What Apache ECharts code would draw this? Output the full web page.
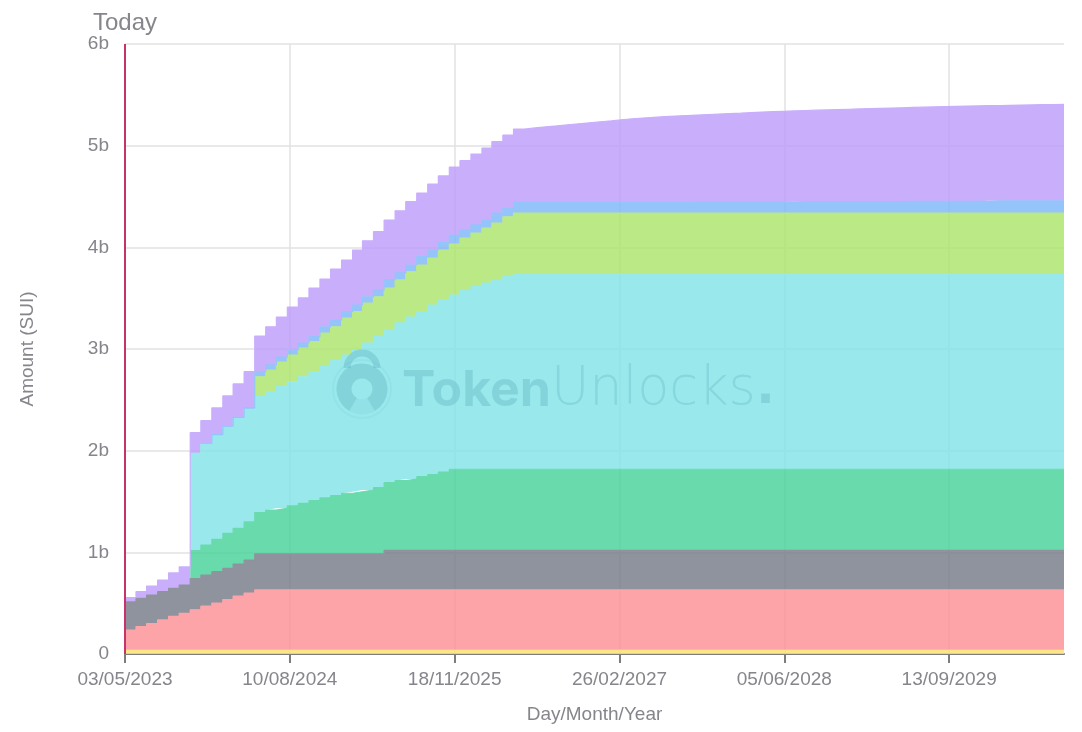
<!DOCTYPE html>
<html>
<head>
<meta charset="utf-8">
<title>SUI unlock schedule</title>
<script src="https://cdn.jsdelivr.net/npm/echarts@6/dist/echarts.min.js"></script>
<style>
  html, body { margin: 0; padding: 0; background: #fff; }
  #chart { width: 1082px; height: 732px; }
</style>
</head>
<body>
<div id="chart"></div>
<script>
// values in billions of SUI, one per monthly unlock step from 03/05/2023
// null = that allocation has not started yet
const tickDays = [0, 465, 930, 1395, 1860, 2325];
const tickLabels = ['03/05/2023', '10/08/2024', '18/11/2025', '26/02/2027', '05/06/2028', '13/09/2029'];

const band1 = [
  .035,.035,.035,.035,.035,.035,.035,.035,.035,.035,
  .035,.035,.035,.035,.035,.035,.035,.035,.035,.035,
  .035,.035,.035,.035,.035,.035,.035,.035,.035,.035,
  .035,.035,.035,.035,.035,.035,.035,.035,.035,.035,
  .035,.035,.035,.035,.035,.035,.035,.035,.035,.035,
  .035,.035,.035,.035,.035,.035,.035,.035,.035,.035,
  .035,.035,.035,.035,.035,.035,.035,.035,.035,.035,
  .035,.035,.035,.035,.035,.035,.035,.035,.035,.035,
  .035,.035,.035,.035,.035,.035,.035,.035
];
const band2 = [
  .201,.235,.265,.30,.335,.365,.40,.435,.465,.50,
  .535,.565,.595,.595,.595,.595,.595,.595,.595,.595,
  .595,.595,.595,.595,.595,.595,.595,.595,.595,.595,
  .595,.595,.595,.595,.595,.595,.595,.595,.595,.595,
  .595,.595,.595,.595,.595,.595,.595,.595,.595,.595,
  .595,.595,.595,.595,.595,.595,.595,.595,.595,.595,
  .595,.595,.595,.595,.595,.595,.595,.595,.595,.595,
  .595,.595,.595,.595,.595,.595,.595,.595,.595,.595,
  .595,.595,.595,.595,.595,.595,.595,.595
];
const band3 = [
  .278,.278,.28,.278,.276,.278,.307,.307,.31,.308,
  .315,.324,.355,.355,.355,.355,.355,.355,.355,.355,
  .355,.355,.355,.355,.39,.39,.39,.39,.39,.39,
  .39,.39,.39,.39,.39,.39,.39,.39,.39,.39,
  .39,.39,.39,.39,.39,.39,.39,.39,.39,.39,
  .39,.39,.39,.39,.39,.39,.39,.39,.39,.39,
  .39,.39,.39,.39,.39,.39,.39,.39,.39,.39,
  .39,.39,.39,.39,.39,.39,.39,.39,.39,.39,
  .39,.39,.39,.39,.39,.39,.39,.39
];
const band4 = [
  null,null,null,null,null,null,.274,.295,.318,.344,
  .351,.377,.405,.431,.448,.471,.497,.523,.552,.572,
  .596,.611,.628,.651,.665,.685,.701,.724,.744,.77,
  .797,.797,.797,.797,.797,.797,.797,.797,.797,.797,
  .797,.797,.797,.797,.797,.797,.797,.797,.797,.797,
  .797,.797,.797,.797,.797,.797,.797,.797,.797,.797,
  .797,.797,.797,.797,.797,.797,.797,.797,.797,.797,
  .797,.797,.797,.797,.797,.797,.797,.797,.797,.797,
  .797,.797,.797,.797,.797,.797,.797,.797
];
const band5 = [
  null,null,null,null,null,null,.958,.991,1.019,1.043,
  1.082,1.109,1.141,1.164,1.196,1.222,1.245,1.269,1.289,1.328,
  1.36,1.394,1.446,1.485,1.502,1.551,1.594,1.623,1.669,1.692,
  1.714,1.763,1.796,1.832,1.862,1.894,1.921,1.921,1.921,1.921,
  1.921,1.921,1.921,1.921,1.921,1.921,1.921,1.921,1.921,1.921,
  1.921,1.921,1.921,1.921,1.921,1.921,1.921,1.921,1.921,1.921,
  1.921,1.921,1.921,1.921,1.921,1.921,1.921,1.921,1.921,1.921,
  1.921,1.921,1.921,1.921,1.921,1.921,1.921,1.921,1.921,1.921,
  1.921,1.921,1.921,1.921,1.921,1.921,1.921,1.921
];
const band6 = [
  null,null,null,null,null,null,null,null,null,null,
  null,null,.196,.213,.243,.263,.283,.295,.331,.334,
  .364,.377,.393,.393,.413,.423,.445,.459,.462,.492,
  .502,.512,.528,.541,.56,.59,.599,.599,.599,.599,
  .599,.599,.599,.599,.599,.599,.599,.599,.599,.599,
  .599,.599,.599,.599,.599,.599,.599,.599,.599,.599,
  .599,.599,.599,.599,.599,.599,.599,.599,.599,.599,
  .599,.599,.599,.599,.599,.599,.599,.599,.599,.599,
  .599,.599,.599,.599,.599,.599,.599,.599
];
const band7 = [
  null,null,null,null,null,null,null,.01,.01,.01,
  .01,.01,.05,.05,.049,.049,.049,.049,.062,.066,
  .062,.066,.062,.066,.079,.069,.066,.082,.079,.081,
  .088,.078,.079,.079,.098,.086,.102,.103,.103,.103,
  .103,.103,.105,.105,.105,.105,.105,.105,.105,.105,
  .105,.105,.108,.108,.108,.108,.108,.108,.108,.108,
  .108,.108,.112,.112,.112,.112,.112,.112,.112,.112,
  .112,.112,.116,.116,.116,.116,.116,.116,.116,.116,
  .12,.12,.12,.12,.12,.12,.12,.12
];
const band8 = [
  .04,.065,.089,.115,.151,.178,.203,.222,.263,.298,
  .328,.357,.351,.376,.394,.423,.443,.479,.469,.502,
  .508,.541,.551,.574,.59,.612,.623,.626,.649,.647,
  .669,.682,.698,.708,.702,.718,.725,.735,.745,.755,
  .765,.775,.783,.793,.803,.813,.823,.83,.837,.843,
  .849,.854,.856,.861,.866,.871,.875,.88,.885,.889,
  .893,.897,.897,.90,.903,.906,.909,.912,.915,.918,
  .921,.924,.923,.926,.929,.932,.934,.936,.938,.94,
  .938,.94,.942,.944,.946,.948,.95,.953
];

const bands = [band1, band2, band3, band4, band5, band6, band7, band8];
const bandColors = [
  'rgb(253,226,117)', 'rgb(253,148,154)', 'rgb(123,128,140)', 'rgb(78,211,158)',
  'rgb(135,229,233)', 'rgb(174,229,113)', 'rgb(130,186,249)', 'rgb(191,160,251)'
];
// same colours as they look on white, for the stroke on top of each band
const edgeColors = [
  'rgb(253,230,138)', 'rgb(253,164,169)', 'rgb(143,147,157)', 'rgb(105,218,173)',
  'rgb(153,233,236)', 'rgb(186,233,134)', 'rgb(149,196,250)', 'rgb(201,174,252)'
];

const start = Date.UTC(2023, 4, 3);
const stepDays = band1.map((v, i) => Math.round((Date.UTC(2023, 4 + i, 3) - start) / 86400000));

const textColor = '#85858c';
const font = '"Liberation Sans", Arial, sans-serif';
const markColor = 'rgba(70,150,175,0.26)';

// value goes first in each row: on two value axes ECharts stacks the first numeric column
const series = bands.map((band, i) => ({
  type: 'line',
  stack: 'total',
  step: 'end',
  showSymbol: false,
  silent: true,
  encode: { x: 1, y: 0 },
  // stroke hides the antialias seam between neighbouring bands
  lineStyle: { width: 1.2, color: edgeColors[i] },
  areaStyle: { color: bandColors[i], opacity: 0.85 },
  data: band.map((v, k) => [v, stepDays[k]])
}));

// the "Today" marker hangs on the last band so it draws above all the fills
series[7].markLine = {
  silent: true,
  symbol: 'none',
  animation: false,
  lineStyle: { color: '#c7326b', width: 2, type: 'solid' },
  label: {
    show: true,
    position: 'end',
    formatter: 'Today',
    color: textColor,
    fontFamily: font,
    fontSize: 24,
    distance: 9
  },
  data: [{ xAxis: 0 }]
};

const myChart = echarts.init(document.getElementById('chart'));
myChart.setOption({
  animation: false,
  grid: { left: 125, right: 18, top: 44, bottom: 78 },
  xAxis: {
    type: 'value',
    min: 0,
    max: stepDays[stepDays.length - 1],
    name: 'Day/Month/Year',
    nameLocation: 'middle',
    nameGap: 51,
    nameTextStyle: { color: textColor, fontFamily: font, fontSize: 19 },
    axisLine: { lineStyle: { color: '#7d7d7d', width: 2 } },
    axisTick: { length: 9, customValues: tickDays, lineStyle: { color: '#7d7d7d', width: 2 } },
    axisLabel: {
      customValues: tickDays,
      color: textColor,
      fontFamily: font,
      fontSize: 19,
      margin: 16,
      formatter: v => tickLabels[tickDays.indexOf(v)]
    },
    splitLine: { show: true, lineStyle: { color: '#e2e2e2', width: 1.5 } }
  },
  yAxis: {
    type: 'value',
    min: 0,
    max: 6,
    interval: 1,
    name: 'Amount (SUI)',
    nameLocation: 'middle',
    nameGap: 88,
    nameTextStyle: { color: textColor, fontFamily: font, fontSize: 19 },
    axisLine: { show: false },
    axisTick: { show: false },
    axisLabel: {
      color: textColor,
      fontFamily: font,
      fontSize: 19,
      margin: 16,
      formatter: v => (v === 0 ? '0' : v + 'b')
    },
    splitLine: { lineStyle: { color: '#e2e2e2', width: 1.5 } }
  },
  series: series,
  graphic: [
    { type: 'circle', z: 100, silent: true, shape: { cx: 362, cy: 389, r: 29 },
      style: { fill: 'none', stroke: 'rgba(70,150,175,0.08)', lineWidth: 2 } },
    { type: 'arc', z: 100, silent: true, shape: { cx: 362, cy: 368, r: 15, startAngle: Math.PI, endAngle: 0 },
      style: { fill: 'none', stroke: markColor, lineWidth: 7 } },
    { type: 'arc', z: 100, silent: true,
      shape: { cx: 362, cy: 389, r: 18, startAngle: Math.PI * 2 / 3, endAngle: Math.PI / 3, clockwise: true },
      style: { fill: 'none', stroke: markColor, lineWidth: 15 } },
    { type: 'arc', z: 100, silent: true,
      shape: { cx: 362, cy: 389, r: 18, startAngle: Math.PI / 3, endAngle: Math.PI * 2 / 3, clockwise: true },
      style: { fill: 'none', stroke: 'rgba(70,150,175,0.10)', lineWidth: 15 } },
    {
      type: 'text',
      z: 100,
      silent: true,
      x: 402,
      y: 364,
      style: {
        text: '{a|Token}{b|Unlocks}{c|.}',
        rich: {
          a: { fontFamily: 'Inter', fontWeight: 700, fontSize: 50, fill: markColor },
          b: { fontFamily: '"DejaVu Sans"', fontWeight: 200, fontSize: 52.5, fill: 'rgba(70,150,175,0.22)' },
          c: { fontFamily: '"DejaVu Sans"', fontWeight: 700, fontSize: 50, fill: markColor }
        }
      }
    }
  ]
});
</script>
</body>
</html>
